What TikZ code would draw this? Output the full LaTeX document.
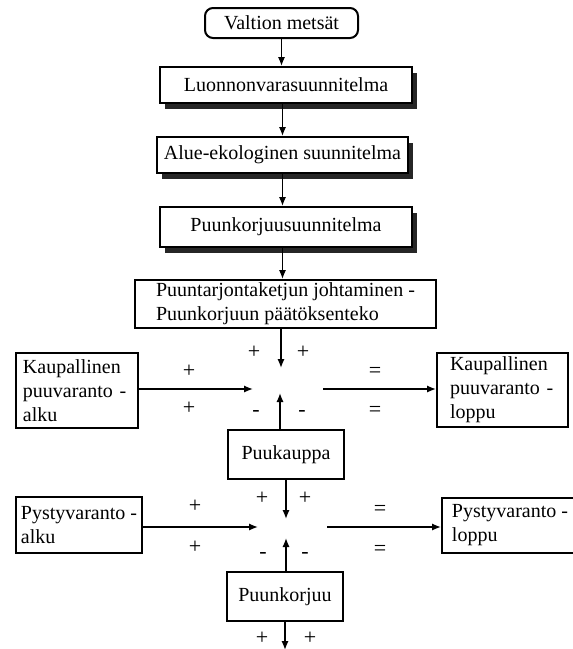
\documentclass[tikz,border=0pt]{standalone}
\usepackage{fontspec}
\setmainfont{Liberation Serif}
\usepackage{tikz}
\usetikzlibrary{arrows.meta}
\usetikzlibrary{shadows}

\tikzset{
  box/.style={draw, line width=1pt, fill=white, font=\fontsize{10}{12}\selectfont, inner sep=1pt, align=center},
  shadowbox/.style={box, drop shadow={shadow xshift=2.5pt, shadow yshift=-3pt, opacity=1, fill=black!85}},
  flow/.style={-{Latex[length=4.5pt,width=3.6pt]}, line width=0.75pt},
  sign/.style={font=\fontsize{11}{12}\selectfont, inner sep=0pt},
}

\begin{document}
\begin{tikzpicture}[x=0.5pt, y=-0.5pt]
				\useasboundingbox (0,0) rectangle (573,649);
				
				\node[box, rounded corners=4pt, minimum width=76.5pt, minimum height=15pt] (valtio) at (281.5,23) {Valtion metsät};
				\node[shadowbox, minimum width=126pt, minimum height=18pt] (luonnon) at (286,85) {Luonnonvarasuunnitelma};
				\node[shadowbox, minimum width=125.5pt, minimum height=18pt] (alue) at (282.5,155) {Alue-ekologinen suunnitelma};
				\node[shadowbox, minimum width=126pt, minimum height=20pt] (puunk) at (286,227) {Puunkorjuusuunnitelma};
				\node[box, align=left, minimum width=150.5pt, minimum height=24pt] (johtaminen) at (285.5,304) {Puuntarjontaketjun johtaminen -\\Puunkorjuun päätöksenteko};
				
				\node[box, align=left, inner xsep=3.5pt, text width=54pt, minimum height=37.5pt] (kaupalku) at (77,390.5) {Kaupallinen\\puuvaranto~-\\alku};
				\node[box, align=left, inner xsep=6.5pt, text width=52.5pt, minimum height=37pt] (kaupLoppu) at (502.5,390) {Kaupallinen\\puuvaranto~-\\loppu};
				\node[box, minimum width=58pt, minimum height=24.5pt] (puukauppa) at (286,454.5) {Puukauppa};
				\node[box, align=left, minimum width=63pt, minimum height=28pt] (pystyAlku) at (79,525) {Pystyvaranto~-\\alku};
				\node[box, align=left, minimum width=68pt, minimum height=27.5pt] (pystyLoppu) at (510,525.5) {Pystyvaranto~-\\loppu};
				\node[box, minimum width=58pt, minimum height=24.5pt] (puunkorjuu) at (285,596.5) {Puunkorjuu};
				
				% arrow ends around the two balances
				\coordinate (j1top) at (281,368);
				\coordinate (j1bot) at (280,393);
				\coordinate (j1left) at (253,389);
				\coordinate (j1right) at (323,389);
				\coordinate (j2top) at (286,519);
				\coordinate (j2bot) at (286,538);
				\coordinate (j2left) at (258,527);
				\coordinate (j2right) at (327,527);
				\coordinate (out) at (285,650);
				
				\draw[flow] (valtio.south) -- (valtio.south |- luonnon.north);
				\draw[flow] (alue.south |- luonnon.south) -- (alue.north);
				\draw[flow] (alue.south) -- (alue.south |- puunk.north);
				\draw[flow] (alue.south |- puunk.south) -- (alue.south |- johtaminen.north);
				\draw[flow] (j1top |- johtaminen.south) -- (j1top);
				\draw[flow] (kaupalku.east |- j1left) -- (j1left);
				\draw[flow] (j1right) -- (j1right -| kaupLoppu.west);
				\draw[flow] (j1bot |- puukauppa.north) -- (j1bot);
				\draw[flow] (j2top |- puukauppa.south) -- (j2top);
				\draw[flow] (pystyAlku.east |- j2left) -- (j2left);
				\draw[flow] (j2right) -- (j2right -| pystyLoppu.west);
				\draw[flow] (j2bot |- puunkorjuu.north) -- (j2bot);
				\draw[flow] (out |- puunkorjuu.south) -- (out);
				
				\node[sign] (p1a) at (254,352) {+};
				\node[sign] (p1b) at (303,352) {+};
				\node[sign] (l1a) at (189,371) {+};
				\node[sign] (l1b) at (189,408) {+};
				\node[sign] (m1a) at (256,413) {-};
				\node[sign] (m1b) at (302,413) {-};
				\node[sign] (e1a) at (375,372) {=};
				\node[sign] (e1b) at (375,411) {=};
				
				\node[sign] (p2a) at (262,498) {+};
				\node[sign] (p2b) at (305,498) {+};
				\node[sign] (l2a) at (195,506) {+};
				\node[sign] (l2b) at (195,547) {+};
				\node[sign] (m2a) at (263,555) {-};
				\node[sign] (m2b) at (305,555) {-};
				\node[sign] (e2a) at (380,510) {=};
				\node[sign] (e2b) at (380,550) {=};
				
				\node[sign] (p3a) at (262,638) {+};
				\node[sign] (p3b) at (310,638) {+};
			\end{tikzpicture}
\end{document}
